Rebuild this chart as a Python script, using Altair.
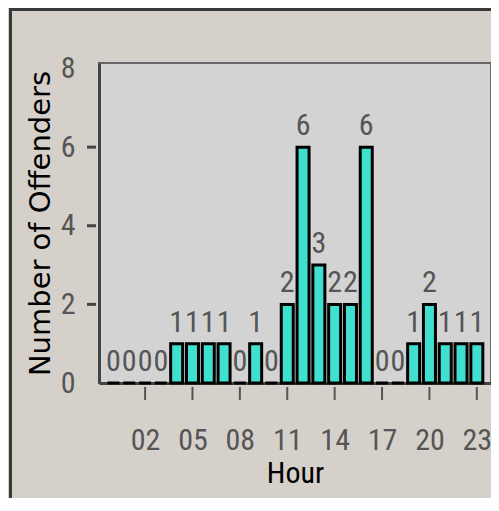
import altair as alt
import pandas as pd

# ---- data ----
hours = list(range(24))
counts = [0, 0, 0, 0, 1, 1, 1, 1, 0, 1, 0, 2, 6, 3, 2, 2, 6, 0, 0, 1, 2, 1, 1, 1]
x_tick_hours = [2, 5, 8, 11, 14, 17, 20, 23]
y_label_values = [0, 2, 4, 6, 8]
y_tick_marks = [2, 4, 6]

df = pd.DataFrame({"hour": hours, "count": counts})
tx = pd.DataFrame({"hour": x_tick_hours})
ty = pd.DataFrame({"count": y_tick_marks})
one = pd.DataFrame({"a": [0]})

W, H = 392, 320
NARROW = "Roboto Condensed"
xs = alt.Scale(domain=[-0.6, 23.58], nice=False, zero=False)
ys = alt.Scale(domain=[0, 8.14], nice=False)

x_axis = alt.Axis(
    values=x_tick_hours, format="02d", title="Hour",
    titleFont=NARROW, titleFontSize=30, titleFontWeight="normal", titleColor="black",
    titleY=99, titleBaseline="alphabetic",
    labelFont=NARROW, labelFontSize=30, labelColor="#555555", labelPadding=42,
    labelFlush=False, labelOverlap=False, ticks=False, grid=False,
    domainColor="#444444", domainWidth=3,
)
y_axis = alt.Axis(
    values=y_label_values, title="Number of Offenders",
    titleFont="DejaVu Sans", titleFontSize=29, titleFontWeight="normal", titleColor="black",
    titleX=-50, titleY=H / 2, titleAngle=270, titleAlign="center", titleBaseline="alphabetic",
    labelFont=NARROW, labelFontSize=30, labelColor="#555555", labelPadding=24,
    labelFlush=False, labelOverlap=False, ticks=False, grid=False,
    domainColor="#444444", domainWidth=3,
)

X = alt.X("hour:Q", scale=xs, axis=x_axis)
Y = alt.Y("count:Q", scale=ys, axis=y_axis)

bars = alt.Chart(df).mark_bar(size=12, fill="#40e0d0", stroke="black", strokeWidth=3).encode(
    x=X, y=Y,
)

labels = alt.Chart(df).mark_text(
    baseline="bottom", dy=-6, font=NARROW, fontSize=30, color="#555555"
).encode(x=X, y=Y, text="count:Q")

xticks = alt.Chart(tx).mark_rule(color="#555555", strokeWidth=2).encode(
    x=X, y=alt.value(H + 4), y2=alt.value(H + 17),
)
yticks = alt.Chart(ty).mark_rule(color="#444444", strokeWidth=3).encode(
    y=Y, x=alt.value(-12), x2=alt.value(-3),
)

border_left = alt.Chart(one).mark_rule(color="#3a3a3a", strokeWidth=3).encode(
    x=alt.value(-88.5), y=alt.value(-55), y2=alt.value(H + 120),
)
border_top = alt.Chart(one).mark_rule(color="#3a3a3a", strokeWidth=3).encode(
    y=alt.value(-53.5), x=alt.value(-90), x2=alt.value(W + 2),
)

chart = alt.layer(bars, labels, xticks, yticks, border_left, border_top).properties(
    width=W, height=H,
    padding={"left": 91, "top": 55, "right": 0, "bottom": 115},
    autosize=alt.AutoSizeParams(type="none"),
    background="#d5d1ca",
).configure_view(
    fill="#d3d3d3", stroke="#666666", strokeWidth=2,
)

chart.save("out.html", embed_options={"renderer": "svg", "actions": False})
